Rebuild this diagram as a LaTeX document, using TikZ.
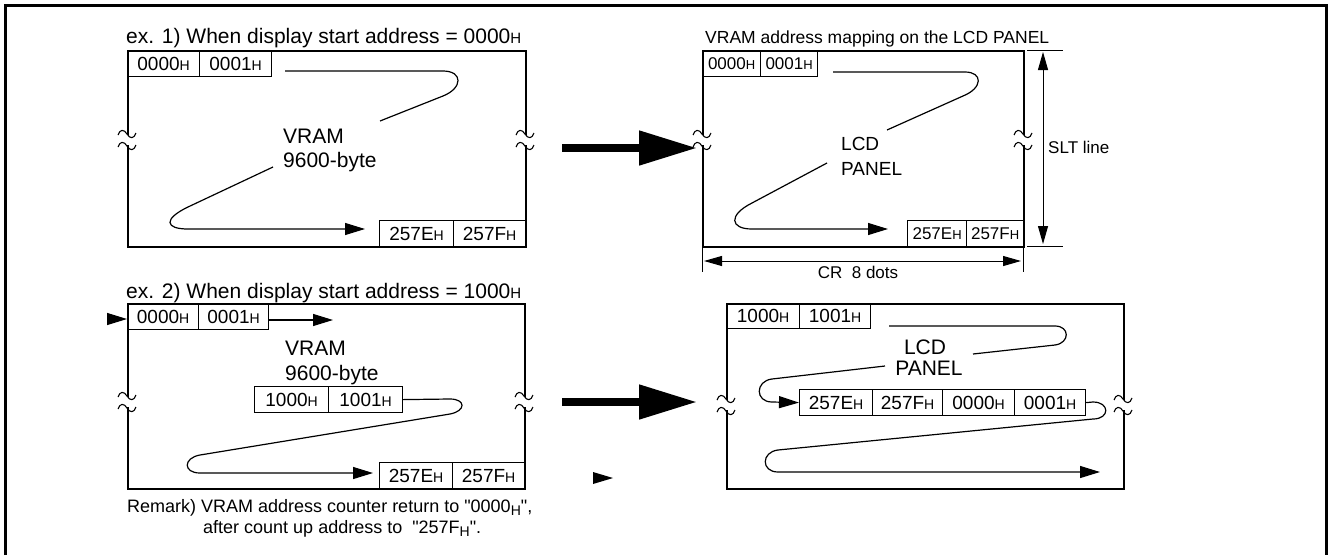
\documentclass[tikz,border=0pt]{standalone}
\usepackage{fontspec}
\setmainfont{Liberation Sans}[Ligatures=TeXOff]
\usetikzlibrary{arrows.meta}

\newcommand\hx[2][14]{#2{\fontsize{#1}{#1}\selectfont H}}
\newcommand\hsub[1]{#1\raisebox{-3pt}{\fontsize{14}{14}\selectfont H}}
% break mark on a panel edge
\newcommand\brk[2]{%
  \fill[white] (#1-3,#2-5) rectangle (#1+3,#2+5);
  \draw[line width=1.1pt] (#1-9,#2-5) .. controls (#1-7,#2-11) and (#1-3,#2-11) .. (#1,#2-6) .. controls (#1+3,#2-1) and (#1+7,#2-1) .. (#1+9,#2-7);
  \draw[line width=1.1pt] (#1-9,#2+7) .. controls (#1-7,#2+1) and (#1-3,#2+1) .. (#1,#2+6) .. controls (#1+3,#2+11) and (#1+7,#2+11) .. (#1+9,#2+5);
}

\begin{document}
\begin{tikzpicture}[x=1pt,y=-1pt,
  panel/.style={draw,line width=2.4pt,inner sep=0pt,anchor=north west},
  cell/.style={draw,line width=1.2pt,inner sep=0pt,minimum height=26pt,anchor=north west,font=\fontsize{19}{19}\selectfont},
  smallcell/.style={cell,font=\fontsize{17}{17}\selectfont},
  lbl/.style={inner sep=0pt,anchor=base west},
  flow/.style={line width=1.2pt},
  tip/.style={-{Triangle[length=20pt,width=12pt]}},
  bigarr/.style={line width=8pt,-{Triangle[length=58pt,width=33pt]}},
  dim/.style={line width=1pt},
  dimarr/.style={line width=1pt,{Triangle[length=18pt,width=10pt]}-{Triangle[length=18pt,width=10pt]}}]
\useasboundingbox (0,0) rectangle (1329,555);
\draw[line width=3pt] (5,555) -- (5,5) -- (1326,5) -- (1326,555);

% ex. 1, VRAM
\node[lbl,font=\fontsize{21}{21}\selectfont] (title1) at (126,43) {ex. 1) When display start address = \hx[15]{0000}};
\node[panel,minimum width=398pt,minimum height=196pt] (vramA) at (127,50) {};
\node[cell,minimum width=72pt] (va0) at (127,50) {\hx{0000}};
\node[cell,minimum width=72pt] (va1) at (199,50) {\hx{0001}};
\node[cell,minimum width=74pt] (va2) at (379,220) {\hx{257E}};
\node[cell,minimum width=72pt] (va3) at (453,220) {\hx{257F}};
\node[lbl,font=\fontsize{21}{21}\selectfont] (vlA) at (283,143) {VRAM};
\node[lbl,font=\fontsize{21}{21}\selectfont] (vsA) at (283,167) {9600-byte};
\coordinate (a1) at (285,71);
\coordinate (a2) at (380,121);
\coordinate (a3) at (273,167);
\coordinate (a4) at (365,229);
\draw[flow] (a1) -- (443,71) .. controls (463,71) and (463,88) .. (443,96) -- (a2);
\draw[flow,tip] (a3) -- (188,207) .. controls (163,219) and (165,229) .. (188,229) -- (a4);
\brk{127}{140}
\brk{525}{140}

% mapping on the LCD panel
\node[lbl,font=\fontsize{17.5}{17.5}\selectfont] (title2) at (705,43) {VRAM address mapping on the LCD PANEL};
\node[panel,minimum width=321pt,minimum height=196pt] (lcdA) at (702,50) {};
\node[smallcell,minimum width=58pt] (la0) at (702,50) {\hx[13]{0000}};
\node[smallcell,minimum width=57pt] (la1) at (760,50) {\hx[13]{0001}};
\node[smallcell,minimum width=59pt] (la2) at (907,220) {\hx[13]{257E}};
\node[smallcell,minimum width=57pt] (la3) at (966,220) {\hx[13]{257F}};
\node[lbl,font=\fontsize{19}{19}\selectfont] (llA) at (841,150) {LCD};
\node[lbl,font=\fontsize{19}{19}\selectfont] (lpA) at (841,175) {PANEL};
\coordinate (b1) at (833,72);
\coordinate (b2) at (887,130);
\coordinate (b3) at (827,163);
\coordinate (b4) at (888,229);
\draw[flow] (b1) -- (965,72) .. controls (983,72) and (983,88) .. (963,96) -- (b2);
\draw[flow,tip] (b3) -- (752,203) .. controls (728,215) and (730,229) .. (752,229) -- (b4);
\brk{702}{140}
\brk{1023}{140}

% SLT line and CR dimensions
\coordinate (s1) at (1027,50);
\coordinate (s2) at (1063,50);
\coordinate (s3) at (1027,246);
\coordinate (s4) at (1063,246);
\draw[dim] (s1) -- (s2);
\draw[dim] (s3) -- (s4);
\draw[dimarr] (1043,52) -- (1043,244);
\node[inner sep=0pt,anchor=west,font=\fontsize{17}{17}\selectfont] (slt) at (1048,147) {SLT line};
\coordinate (d1) at (702,248);
\coordinate (d2) at (702,272);
\coordinate (d3) at (1023,248);
\coordinate (d4) at (1023,272);
\draw[dim] (d1) -- (d2);
\draw[dim] (d3) -- (d4);
\draw[dimarr] (704,261) -- (1021,261);
\node[inner sep=0pt,anchor=base,font=\fontsize{17}{17}\selectfont] (cr) at (858,278) {CR\ \ 8 dots};

% ex. 2, VRAM
\node[lbl,font=\fontsize{21}{21}\selectfont] (title3) at (126,298) {ex. 2) When display start address = \hx[15]{1000}};
\node[panel,minimum width=397pt,minimum height=185pt] (vramB) at (127,303) {};
\node[cell,minimum width=71pt] (vb0) at (127,303) {\hx{0000}};
\node[cell,minimum width=70pt] (vb1) at (198,303) {\hx{0001}};
\node[cell,minimum width=74pt] (vb2) at (254,386) {\hx{1000}};
\node[cell,minimum width=74pt] (vb3) at (328,386) {\hx{1001}};
\node[cell,minimum width=73pt] (vb4) at (379,462) {\hx{257E}};
\node[cell,minimum width=72pt] (vb5) at (452,462) {\hx{257F}};
\node[lbl,font=\fontsize{21}{21}\selectfont] (vlB) at (285,355) {VRAM};
\node[lbl,font=\fontsize{21}{21}\selectfont] (vsB) at (285,380) {9600-byte};
\coordinate (c0) at (107,319);
\coordinate (c1) at (127,319);
\coordinate (c2) at (268,320);
\coordinate (c3) at (333,320);
\coordinate (c4) at (373,473);
\draw[flow,tip] (c0) -- (c1);
\draw[flow,tip] (c2) -- (c3);
\draw[flow,tip] (vb3.east) -- (450,399) .. controls (466,399) and (466,411) .. (450,414) -- (200,455) .. controls (183,458) and (183,473) .. (200,473) -- (c4);
\brk{127}{402}
\brk{524}{402}
\node[lbl,font=\fontsize{18}{18}\selectfont] (rem1) at (127,512) {Remark) VRAM address counter return to "\hsub{0000}",};
\node[lbl,font=\fontsize{18}{18}\selectfont] (rem2) at (203,533) {after count up address to\ \ "\hsub{257F}".};

% mapping on the LCD panel, ex. 2
\node[panel,minimum width=397pt,minimum height=185pt] (lcdB) at (726,303) {};
\node[cell,minimum width=73pt,minimum height=25pt] (lb0) at (726,303) {\hx{1000}};
\node[cell,minimum width=71pt,minimum height=25pt] (lb1) at (799,303) {\hx{1001}};
\node[cell,minimum width=73pt] (lb2) at (799,389) {\hx{257E}};
\node[cell,minimum width=70pt] (lb3) at (872,389) {\hx{257F}};
\node[cell,minimum width=72pt] (lb4) at (942,389) {\hx{0000}};
\node[cell,minimum width=71pt] (lb5) at (1014,389) {\hx{0001}};
\node[inner sep=0pt,anchor=base,font=\fontsize{21}{21}\selectfont] (llB) at (925,354) {LCD};
\node[inner sep=0pt,anchor=base,font=\fontsize{21}{21}\selectfont] (lpB) at (929,375) {PANEL};
\coordinate (e1) at (889,326);
\coordinate (e2) at (973,354);
\coordinate (e3) at (885,366);
\coordinate (e4) at (1100,472);
\draw[flow] (e1) -- (1055,326) .. controls (1070,326) and (1070,343) .. (1055,345) -- (e2);
\draw[flow,tip] (e3) -- (772,379) .. controls (755,381) and (755,402) .. (772,402) -- (lb2.west);
\draw[flow,tip] (lb5.east) -- (1093,402) .. controls (1110,402) and (1110,419) .. (1093,419) -- (778,450) .. controls (761,452) and (761,472) .. (778,472) -- (e4);
\brk{726}{405}
\brk{1123}{405}

% big arrows
\coordinate (g1) at (562,148);
\coordinate (g2) at (697,148);
\coordinate (g3) at (562,402);
\coordinate (g4) at (697,402);
\draw[bigarr] (g1) -- (g2);
\draw[bigarr] (g3) -- (g4);
\fill (593,472) -- (613,478) -- (593,484) -- cycle;
\end{tikzpicture}
\end{document}
